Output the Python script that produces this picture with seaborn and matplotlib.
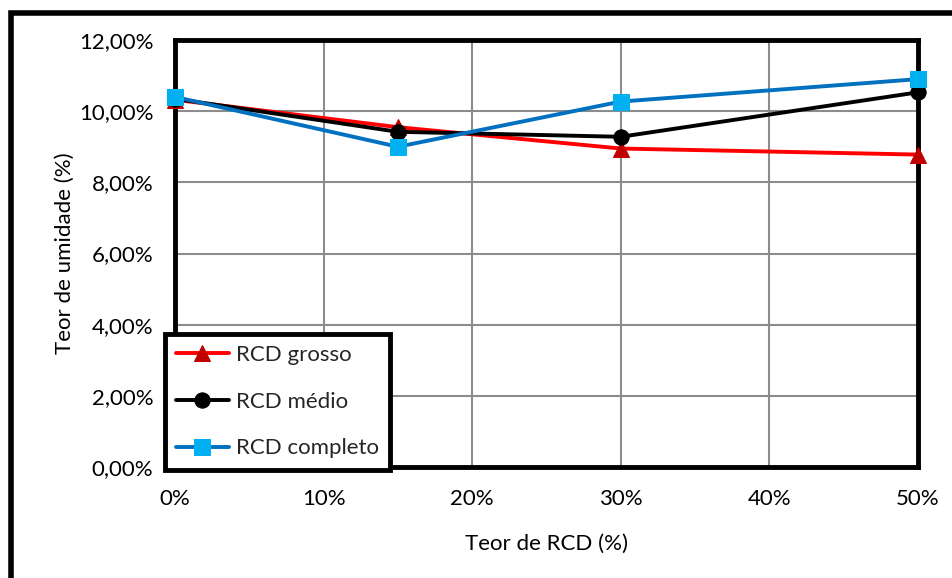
import numpy as np
import pandas as pd
import matplotlib
matplotlib.use("Agg")
import matplotlib.pyplot as plt
import seaborn as sns
from matplotlib.patches import Rectangle
from matplotlib.ticker import FuncFormatter, MultipleLocator

# Data
teor_rcd = [0, 15, 30, 50]
rcd_grosso = [10.32, 9.55, 8.95, 8.78]
rcd_medio = [10.35, 9.42, 9.28, 10.53]
rcd_completo = [10.40, 9.00, 10.27, 10.90]
series_names = ["RCD grosso", "RCD médio", "RCD completo"]

df = pd.DataFrame({
    "x": teor_rcd * 3,
    "y": rcd_grosso + rcd_medio + rcd_completo,
    "serie": sum([[n] * len(teor_rcd) for n in series_names], []),
})

sns.set_theme(style="white")
plt.rcParams["font.family"] = ["Lato", "DejaVu Sans"]

FS = 16

fig = plt.figure(figsize=(9.52, 5.78), dpi=100)
ax = fig.add_axes([175/952, 1-467/578, (918-175)/952, (467-40)/578])

styles = {
    "RCD grosso": dict(color="#FF0000", marker="^", mfc="#C00000", mec="#C00000", ms=11),
    "RCD médio": dict(color="#000000", marker="o", mfc="#000000", mec="#000000", ms=11),
    "RCD completo": dict(color="#0070C0", marker="s", mfc="#00B0F0", mec="#00B0F0", ms=11),
}
for name in series_names:
    st = styles[name]
    sub = df[df["serie"] == name]
    sns.lineplot(data=sub, x="x", y="y", ax=ax, color=st["color"], linewidth=2.8,
                 marker=st["marker"], markerfacecolor=st["mfc"], markeredgecolor=st["mec"],
                 markersize=st["ms"], label=name, clip_on=False, zorder=5)

ax.set_xlim(0, 50)
ax.set_ylim(0, 12)
ax.xaxis.set_major_locator(MultipleLocator(10))
ax.yaxis.set_major_locator(MultipleLocator(2))
ax.xaxis.set_major_formatter(FuncFormatter(lambda v, p: f"{int(round(v))}%"))
ax.yaxis.set_major_formatter(FuncFormatter(lambda v, p: f"{v:.2f}".replace(".", ",") + "%"))
ax.grid(True, color="#8C8C8C", linewidth=1.5)
ax.set_axisbelow(True)
for s in ax.spines.values():
    s.set_color("black")
    s.set_linewidth(3.5)
ax.tick_params(axis="both", length=0, labelsize=FS, colors="black")
ax.tick_params(axis="x", pad=16)
ax.tick_params(axis="y", pad=15.5)
ax.set_xlabel("Teor de RCD (%)", fontsize=FS, color="black", labelpad=18)
ax.set_ylabel("Teor de umidade (%)", fontsize=FS, color="black", labelpad=3)

leg = ax.legend(loc="lower left", bbox_to_anchor=(-0.014, -0.006), fontsize=FS,
                frameon=True, fancybox=False, framealpha=1, handlelength=2.4, borderpad=0.5,
                labelspacing=1.2, handletextpad=0.3, borderaxespad=0)
leg.get_frame().set_edgecolor("black")
leg.get_frame().set_linewidth(3.5)
leg.set_zorder(10)

# outer figure border
fig.patches.append(Rectangle((11/952, -0.1), 1.2, 1 - 13/578 + 0.1, transform=fig.transFigure,
                             fill=False, edgecolor="black", linewidth=4, zorder=0))

fig.savefig("out.png", dpi=100)
